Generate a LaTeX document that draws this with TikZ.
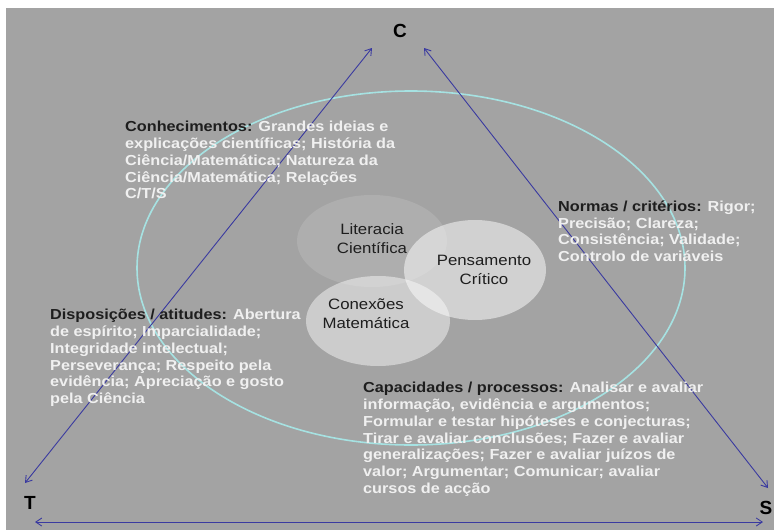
\documentclass[tikz,border=0pt]{standalone}
\usepackage{fontspec}
\setmainfont{Liberation Sans}
\newfontfamily\wideblock[FakeStretch=1.12]{Liberation Sans}
\usetikzlibrary{arrows.meta}
\definecolor{bggray}{HTML}{A3A3A3}
\definecolor{navy}{HTML}{3A3AA0}
\definecolor{cyanring}{HTML}{A6E2E2}
\definecolor{lighttext}{HTML}{F0F0F0}
\definecolor{darktext}{HTML}{1E1E1E}
\tikzset{
  rel/.style={draw=navy, line width=0.9pt, {Straight Barb[length=6pt,width=8pt]}-{Straight Barb[length=6pt,width=8pt]}},
  corner/.style={font=\fontsize{19}{22}\selectfont\bfseries, text=black, inner sep=0pt},
  block/.style={anchor=north west, align=left, inner sep=0pt, text=lighttext,
     font=\wideblock\fontsize{14.5}{16.8}\selectfont\bfseries},
  bubbletext/.style={align=center, inner sep=0pt, text=darktext, font=\wideblock\fontsize{15}{19}\selectfont}
}
\begin{document}
\begin{tikzpicture}[x=1pt,y=-1pt]
\useasboundingbox (0,0) rectangle (774,530);
\fill[bggray] (6,8) rectangle (774,530);
% outer ring
\draw[cyanring, line width=1.6pt] (411,268) ellipse [x radius=274, y radius=177];
% bubbles
\fill[white, opacity=0.12] (372,241) ellipse [x radius=75, y radius=46];
\fill[white, opacity=0.45] (378,321) ellipse [x radius=72, y radius=45];
\fill[white, opacity=0.5] (475,270) ellipse [x radius=71, y radius=50];
\node[bubbletext] (lit) at (372,239) {Literacia\\Científica};
\node[bubbletext] (pen) at (484,270) {Pensamento\\Crítico};
\node[bubbletext] (con) at (366,314) {Conexões\\Matemática};
% corners
\node[corner] (C) at (400,31) {C};
\node[corner] (T) at (30,503) {T};
\node[corner] (S) at (766,508) {S};
\coordinate (ct1) at (25,483);
\coordinate (ct2) at (372,48);
\coordinate (cs1) at (424,48);
\coordinate (cs2) at (768,488);
\coordinate (ts1) at (35,522);
\coordinate (ts2) at (763,522);
\draw[rel] (ct1) -- (ct2);
\draw[rel] (cs1) -- (cs2);
\draw[rel] (ts1) -- (ts2);
% text blocks
\node[block] (kn) at (125,121) {\textcolor{darktext}{Conhecimentos:} Grandes ideias e\\explicações científicas; História da\\Ciência/Matemática; Natureza da\\Ciência/Matemática; Relações\\C/T/S};
\node[block] (no) at (558,200.5) {\textcolor{darktext}{Normas / critérios:} Rigor;\\Precisão; Clareza;\\Consistência; Validade;\\Controlo de variáveis};
\node[block] (di) at (50,309) {\textcolor{darktext}{Disposições / atitudes:} Abertura\\de espírito; Imparcialidade;\\Integridade intelectual;\\Perseverança; Respeito pela\\evidência; Apreciação e gosto\\pela Ciência};
\node[block] (ca) at (363,382) {\textcolor{darktext}{Capacidades / processos:} Analisar e avaliar\\informação, evidência e argumentos;\\Formular e testar hipóteses e conjecturas;\\Tirar e avaliar conclusões; Fazer e avaliar\\generalizações; Fazer e avaliar juízos de\\valor; Argumentar; Comunicar; avaliar\\cursos de acção};
\end{tikzpicture}
\end{document}
